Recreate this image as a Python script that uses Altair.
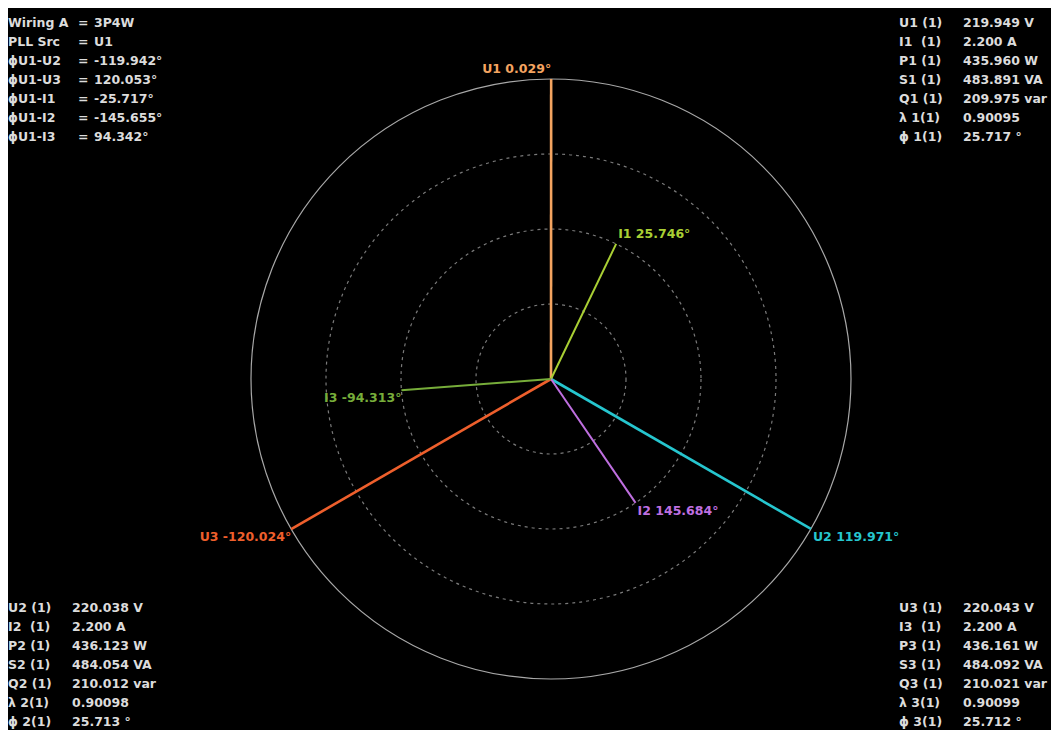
import math
import altair as alt
import pandas as pd

# ---- data ----
names = ["U1", "U2", "U3", "I1", "I2", "I3"]
magnitudes = [219.949, 220.038, 220.043, 2.200, 2.200, 2.200]
angles = [0.029, 119.971, -120.024, 25.746, 145.684, -94.313]
full_scale = {"U": 220.0, "I": 4.4}
colors = ["#f4a460", "#26c6cf", "#ee5f2c", "#a9cf34", "#bf6fe0", "#77ad3a"]

ring_radii = [0.25, 0.5, 0.75]
outer_ring = [1.0]

tl_labels = ["Wiring A", "PLL Src", "ϕU1-U2", "ϕU1-U3", "ϕU1-I1", "ϕU1-I2", "ϕU1-I3"]
tl_values = ["3P4W", "U1", "-119.942°", "120.053°", "-25.717°", "-145.655°", "94.342°"]

tr_labels = ["U1 (1)", "I1\u00a0\u00a0(1)", "P1 (1)", "S1 (1)", "Q1 (1)", "\u00a0λ 1(1)", "\u00a0ϕ 1(1)"]
tr_values = ["219.949 V", "2.200 A", "435.960 W", "483.891 VA", "209.975 var", "0.90095", "25.717 °"]

bl_labels = ["U2 (1)", "I2\u00a0\u00a0(1)", "P2 (1)", "S2 (1)", "Q2 (1)", "\u00a0λ 2(1)", "\u00a0ϕ 2(1)"]
bl_values = ["220.038 V", "2.200 A", "436.123 W", "484.054 VA", "210.012 var", "0.90098", "25.713 °"]

br_labels = ["U3 (1)", "I3\u00a0\u00a0(1)", "P3 (1)", "S3 (1)", "Q3 (1)", "\u00a0λ 3(1)", "\u00a0ϕ 3(1)"]
br_values = ["220.043 V", "2.200 A", "436.161 W", "484.092 VA", "210.021 var", "0.90099", "25.712 °"]

# ---- build tables ----
rows = []
for n, m, a in zip(names, magnitudes, angles):
    kind = n[0]
    r = m / full_scale[kind]
    rad = math.radians(a)
    x = r * math.sin(rad)
    y = r * math.cos(rad)
    rows.append({
        "name": n, "kind": kind, "x0": 0.0, "y0": 0.0, "x": x, "y": y,
        "label": f"{n} {a:.3f}°",
        "ha": "left" if x > 0.05 else "right",
        "va": "above" if y > 0 else "below",
    })
vec = pd.DataFrame(rows)

rings = pd.DataFrame({"r": ring_radii, "c0": 0.0})
outer = pd.DataFrame({"r": outer_ring, "c0": 0.0})

xs = alt.Scale(domain=[-1, 1], range=[243, 843])
ys = alt.Scale(domain=[-1, 1], range=[671, 71])
ss = alt.Scale(type="pow", exponent=2, domain=[0, 1], range=[0, 360000])
cs = alt.Scale(domain=names, range=colors)

FONT = "DejaVu Sans"
TXT = "#dcdcdc"

ring_layer = alt.Chart(rings).mark_point(
    shape="circle", filled=False, stroke="#7a7a7a", strokeWidth=1.2, strokeDash=[3, 4], opacity=1
).encode(
    x=alt.X("c0:Q", scale=xs, axis=None),
    y=alt.Y("c0:Q", scale=ys, axis=None),
    size=alt.Size("r:Q", scale=ss, legend=None),
)

outer_layer = alt.Chart(outer).mark_point(
    shape="circle", filled=False, stroke="#a8a8a8", strokeWidth=1.2, opacity=1
).encode(
    x=alt.X("c0:Q", scale=xs, axis=None),
    y=alt.Y("c0:Q", scale=ys, axis=None),
    size=alt.Size("r:Q", scale=ss, legend=None),
)

vec_layer = alt.Chart(vec).mark_rule().encode(
    x=alt.X("x0:Q", scale=xs, axis=None),
    y=alt.Y("y0:Q", scale=ys, axis=None),
    x2="x:Q",
    y2="y:Q",
    color=alt.Color("name:N", scale=cs, legend=None),
    strokeWidth=alt.StrokeWidth("kind:N", scale=alt.Scale(domain=["U", "I"], range=[2.6, 2.0]), legend=None),
)

label_layers = []
for ha in ["left", "right"]:
    for va in ["above", "below"]:
        label_layers.append(
            alt.Chart(vec).transform_filter(
                (alt.datum.ha == ha) & (alt.datum.va == va)
            ).mark_text(
                align=ha,
                baseline="bottom" if va == "above" else "top",
                dx=2 if ha == "left" else 0,
                dy=-3 if va == "above" else 2,
                font=FONT, fontSize=12.5, fontWeight="bold",
            ).encode(
                x=alt.X("x:Q", scale=xs, axis=None),
                y=alt.Y("y:Q", scale=ys, axis=None),
                text="label:N",
                color=alt.Color("name:N", scale=cs, legend=None),
            )
        )


def panel(lines, x, y, lh, size=12.5):
    df = pd.DataFrame({"t": ["\n".join(lines)]})
    return alt.Chart(df).mark_text(
        align="left", baseline="top", lineBreak="\n", lineHeight=lh,
        font=FONT, fontSize=size, fontWeight="bold", color=TXT,
    ).encode(x=alt.value(x), y=alt.value(y), text="t:N")


panels = [
    panel(tl_labels, 0, 8.6, 19),
    panel(["="] * len(tl_labels), 70, 8.6, 19),
    panel(tl_values, 86, 8.6, 19),
    panel(tr_labels, 891, 8.6, 19),
    panel(tr_values, 955, 8.6, 19),
    panel(bl_labels, 0, 594, 19),
    panel(bl_values, 64, 594, 19),
    panel(br_labels, 891, 594, 19),
    panel(br_values, 955, 594, 19),
]

chart = alt.layer(
    outer_layer, ring_layer, vec_layer, *label_layers, *panels
).properties(
    width=1043, height=722, background="black", padding=0, autosize="none"
).configure_view(stroke=None)

chart.save("out.html", embed_options={"renderer": "svg", "actions": False})
